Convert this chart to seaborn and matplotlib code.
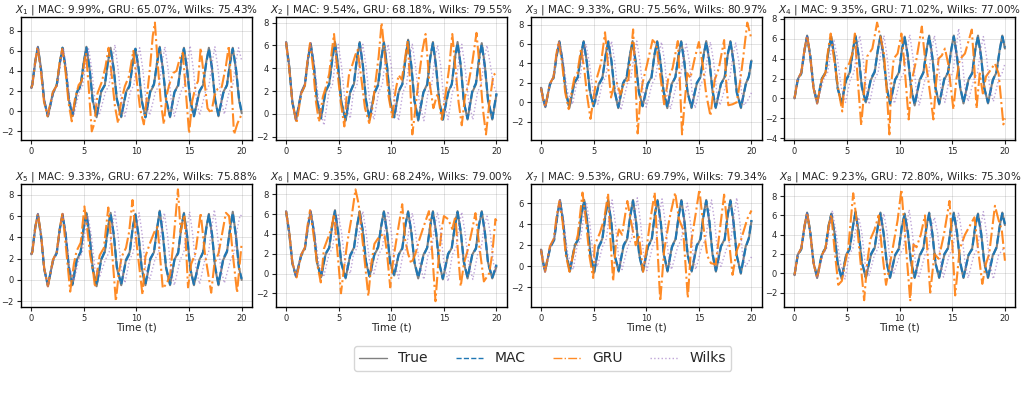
import matplotlib
matplotlib.use("Agg")
import matplotlib.pyplot as plt
import seaborn as sns

# error percentages shown in the panel titles
mac_err = [9.99, 9.54, 9.33, 9.35, 9.33, 9.35, 9.53, 9.23]
gru_err = [65.07, 68.18, 75.56, 71.02, 67.22, 68.24, 69.79, 72.80]
wilks_err = [75.43, 79.55, 80.97, 77.00, 75.88, 79.00, 79.34, 75.30]

# ---- X1 ----
x1_t = [0.0, 0.1, 0.38, 0.63, 0.93, 1.23, 1.58, 2.07, 2.42, 2.72, 2.97, 3.27, 3.57, 3.91, 4.34, 4.69, 4.99, 5.24, 5.54, 5.84, 6.21, 6.64, 6.99, 7.29, 7.54, 7.84, 8.14, 8.55, 9.0, 9.35, 9.65, 9.9, 10.2, 10.5, 10.85, 11.31, 11.66, 11.96, 12.21, 12.51, 12.81, 13.19, 13.61, 13.96, 14.26, 14.51, 14.81, 15.11, 15.46, 15.98, 16.33, 16.63, 16.88, 17.18, 17.48, 17.79, 18.25, 18.6, 18.9, 19.15, 19.45, 19.75, 20.0]
x1_true = [2.3, 2.6, 4.9, 6.4, 4.2, 1.1, -0.5, 1.9, 2.6, 4.9, 6.3, 4.2, 1.1, -0.5, 1.9, 2.6, 4.9, 6.4, 4.2, 1.1, -0.6, 1.9, 2.6, 4.9, 6.3, 4.2, 1.1, -0.6, 1.9, 2.6, 4.9, 6.2, 4.2, 1.1, -0.6, 1.9, 2.6, 4.9, 6.4, 4.2, 1.1, -0.6, 1.9, 2.6, 4.9, 6.3, 4.2, 1.1, -0.5, 1.9, 2.6, 4.9, 6.3, 4.2, 1.1, -0.5, 1.9, 2.6, 4.9, 6.3, 4.2, 1.1, -0.2]
x1_mac = [2.3, 2.7, 5.0, 6.3, 4.1, 1.0, -0.5, 1.8, 2.6, 4.8, 6.3, 4.3, 1.2, -0.4, 1.9, 2.5, 4.8, 6.3, 4.3, 1.0, -0.5, 2.0, 2.6, 5.0, 6.2, 4.1, 1.2, -0.5, 1.8, 2.5, 4.8, 6.2, 4.3, 1.0, -0.6, 2.0, 2.7, 4.8, 6.3, 4.2, 1.2, -0.5, 1.9, 2.5, 5.0, 6.2, 4.1, 1.1, -0.5, 2.0, 2.6, 4.8, 6.2, 4.3, 1.1, -0.4, 1.8, 2.6, 4.8, 6.2, 4.3, 1.2, -0.1]
x1_wilks_t = [0.0, 0.1, 0.38, 0.63, 0.93, 1.23, 1.6, 2.12, 2.5, 2.8, 3.05, 3.35, 3.65, 4.05, 4.55, 4.9, 5.2, 5.45, 5.75, 6.05, 6.45, 7.05, 7.4, 7.7, 7.95, 8.25, 8.55, 8.9, 9.4, 9.75, 10.05, 10.3, 10.6, 10.9, 11.25, 11.8, 12.15, 12.45, 12.7, 13.0, 13.3, 13.6, 14.2, 14.55, 14.85, 15.1, 15.4, 15.7, 16.0, 16.55, 16.9, 17.2, 17.45, 17.75, 18.05, 18.35, 18.8, 19.15, 19.45, 19.7, 20.0]
x1_wilks = [2.3, 2.6, 4.9, 6.4, 4.2, 1.1, -0.5, 1.9, 2.6, 4.9, 6.3, 4.2, 1.1, -0.3, 1.9, 2.6, 4.9, 6.2, 4.2, 1.1, -0.4, 1.9, 2.6, 4.9, 6.6, 4.2, 1.1, -0.5, 1.9, 2.6, 4.9, 6.3, 4.2, 1.1, -0.4, 1.9, 2.6, 4.9, 6.4, 4.2, 1.1, -0.5, 1.9, 2.6, 4.9, 6.5, 4.2, 1.1, -0.4, 1.9, 2.6, 4.9, 6.4, 4.2, 1.1, -0.3, 1.9, 2.6, 4.9, 6.3, 5.0]
x1_gru_t = [0.0, 0.1, 0.38, 0.6, 0.9, 1.2, 1.55, 2.05, 2.4, 2.7, 2.95, 3.25, 3.55, 3.85, 4.15, 4.5, 4.8, 5.0, 5.2, 5.45, 5.75, 6.0, 6.3, 6.7, 7.05, 7.35, 7.65, 7.95, 8.25, 8.55, 8.9, 9.3, 9.7, 10.05, 10.35, 10.7, 11.0, 11.3, 11.55, 11.75, 12.0, 12.3, 12.6, 12.85, 13.1, 13.5, 13.8, 14.1, 14.4, 14.7, 15.0, 15.3, 15.6, 15.85, 16.1, 16.4, 16.75, 17.1, 17.4, 17.7, 18.1, 18.5, 18.77, 19.0, 19.27, 19.6, 20.0]
x1_gru = [2.3, 2.6, 4.9, 6.4, 4.2, 1.0, -0.5, 1.9, 2.5, 4.8, 6.2, 4.0, 0.8, -1.0, 1.2, 2.6, 3.0, 4.6, 5.8, 2.5, -2.0, -1.2, 1.8, 2.9, 4.4, 6.3, 3.5, 0.5, -1.2, 1.0, 2.5, 3.5, 6.0, 2.8, 0.2, -1.3, 1.5, 4.5, 7.5, 8.8, 5.0, 1.0, -1.3, 1.5, 2.6, 3.8, 4.0, 5.2, 5.8, 1.8, -2.2, 1.0, 2.4, 3.0, 6.3, 3.5, 0.3, -0.2, 1.5, 2.2, 2.4, 4.5, 6.5, 3.0, -2.3, -1.2, -0.3]

# ---- X2 ----
x2_t = [0.0, 0.3, 0.6, 0.95, 1.44, 1.79, 2.09, 2.34, 2.64, 2.94, 3.32, 3.75, 4.1, 4.4, 4.65, 4.95, 5.25, 5.66, 6.1, 6.45, 6.75, 7.0, 7.3, 7.6, 7.94, 8.4, 8.75, 9.05, 9.3, 9.6, 9.9, 10.28, 10.7, 11.05, 11.35, 11.6, 11.9, 12.2, 12.56, 13.06, 13.41, 13.71, 13.96, 14.26, 14.56, 14.9, 15.4, 15.75, 16.05, 16.3, 16.6, 16.9, 17.25, 17.7, 18.05, 18.35, 18.6, 18.9, 19.2, 19.6, 20.0]
x2_true = [6.3, 4.2, 1.1, -0.6, 1.9, 2.6, 4.9, 6.2, 4.2, 1.1, -0.4, 1.9, 2.6, 4.9, 6.3, 4.2, 1.1, -0.6, 1.9, 2.6, 4.9, 6.3, 4.2, 1.1, -0.5, 1.9, 2.6, 4.9, 6.3, 4.2, 1.1, -0.3, 1.9, 2.6, 4.9, 6.5, 4.2, 1.1, -0.6, 1.9, 2.6, 4.9, 6.3, 4.2, 1.1, -0.5, 1.9, 2.6, 4.9, 6.3, 4.2, 1.1, -0.5, 1.9, 2.6, 4.9, 6.2, 4.2, 1.1, -0.5, 1.7]
x2_mac = [6.3, 4.1, 1.0, -0.5, 1.8, 2.5, 4.8, 6.1, 4.3, 1.2, -0.4, 2.0, 2.6, 4.8, 6.2, 4.1, 1.0, -0.5, 1.9, 2.7, 5.0, 6.2, 4.3, 1.2, -0.4, 1.8, 2.5, 4.8, 6.2, 4.1, 1.0, -0.3, 2.0, 2.6, 4.8, 6.4, 4.3, 1.2, -0.5, 1.9, 2.5, 5.0, 6.2, 4.1, 1.1, -0.5, 1.8, 2.6, 4.8, 6.2, 4.3, 1.0, -0.4, 2.0, 2.7, 4.8, 6.1, 4.1, 1.2, -0.4, 1.8]
x2_wilks_t = [0.0, 0.3, 0.6, 0.95, 1.44, 1.79, 2.09, 2.34, 2.7, 3.1, 3.6, 4.07, 4.42, 4.72, 4.97, 5.27, 5.6, 6.1, 6.4, 6.75, 7.05, 7.3, 7.6, 7.95, 8.35, 8.8, 9.15, 9.45, 9.7, 10.0, 10.3, 10.7, 11.1, 11.45, 11.75, 12.0, 12.3, 12.65, 13.1, 13.5, 13.85, 14.15, 14.4, 14.7, 15.0, 15.4, 15.8, 16.15, 16.45, 16.7, 17.0, 17.35, 17.75, 18.2, 18.55, 18.85, 19.1, 19.4, 19.7, 20.0]
x2_wilks = [6.3, 4.2, 1.1, -0.6, 1.9, 2.6, 4.9, 6.2, 4.2, 1.1, -1.0, 1.9, 2.6, 4.9, 6.1, 4.2, 1.1, -0.4, 1.9, 2.6, 4.9, 6.1, 4.2, 1.1, -0.5, 1.9, 2.6, 4.9, 6.1, 4.2, 1.1, -0.6, 1.9, 2.6, 4.9, 6.1, 4.2, 1.1, -0.6, 1.9, 2.6, 4.9, 6.0, 4.2, 1.1, -0.5, 1.9, 2.6, 4.9, 6.1, 4.2, 1.1, -0.5, 1.9, 2.6, 4.9, 6.0, 4.4, 2.6, 1.8]
x2_gru_t = [0.0, 0.3, 0.6, 1.0, 1.45, 1.8, 2.05, 2.28, 2.55, 2.85, 3.13, 3.5, 3.8, 4.1, 4.35, 4.56, 4.85, 5.2, 5.54, 5.75, 6.0, 6.3, 6.6, 6.8, 7.1, 7.5, 7.9, 8.2, 8.5, 8.8, 9.08, 9.4, 9.75, 10.1, 10.4, 10.7, 11.0, 11.3, 11.55, 11.8, 12.0, 12.3, 12.6, 12.95, 13.26, 13.6, 14.0, 14.4, 14.8, 15.2, 15.5, 15.8, 16.1, 16.4, 16.7, 17.0, 17.3, 17.7, 18.1, 18.4, 18.7, 19.0, 19.3, 19.7, 20.0]
x2_gru = [6.3, 4.0, 1.0, -0.8, 1.8, 2.5, 4.8, 6.2, 4.2, 1.0, -0.7, 1.5, 2.4, 3.5, 5.5, 7.0, 4.0, 1.0, -1.1, 1.5, 3.6, 4.3, 5.2, 5.6, 3.5, 0.5, -0.8, 0.5, 2.8, 5.0, 8.0, 5.0, 1.5, -0.3, 2.0, 3.4, 3.0, 4.8, 6.4, 2.5, -1.8, 0.5, 3.0, 5.5, 7.0, 3.0, 0.5, 1.8, -0.5, 2.0, 4.0, 7.0, 4.0, 1.0, -1.0, 1.5, 2.5, 4.5, 7.1, 4.0, 0.5, -1.8, 0.8, 3.4, 3.6]

# ---- X3 ----
x3_t = [0.0, 0.2, 0.41, 0.84, 1.19, 1.49, 1.74, 2.04, 2.34, 2.69, 3.15, 3.5, 3.8, 4.05, 4.35, 4.65, 5.0, 5.49, 5.84, 6.14, 6.39, 6.69, 6.99, 7.34, 7.8, 8.15, 8.45, 8.7, 9.0, 9.3, 9.65, 10.14, 10.49, 10.79, 11.04, 11.34, 11.64, 12.0, 12.42, 12.77, 13.07, 13.32, 13.62, 13.92, 14.3, 14.8, 15.15, 15.45, 15.7, 16.0, 16.3, 16.6, 17.1, 17.45, 17.75, 18.0, 18.3, 18.6, 19.0, 19.45, 19.75, 20.0]
x3_true = [1.5, 0.3, -0.5, 1.9, 2.6, 4.9, 6.3, 4.2, 1.1, -0.6, 1.9, 2.6, 4.9, 6.3, 4.2, 1.1, -0.4, 1.9, 2.6, 4.9, 6.3, 4.2, 1.1, -0.6, 1.9, 2.6, 4.9, 6.3, 4.2, 1.1, -0.4, 1.9, 2.6, 4.9, 6.3, 4.2, 1.1, -0.6, 1.9, 2.6, 4.9, 6.3, 4.2, 1.1, -0.6, 1.9, 2.6, 4.9, 6.3, 4.2, 1.1, -0.6, 1.9, 2.6, 4.9, 6.3, 4.2, 1.1, -0.6, 1.9, 2.6, 4.3]
x3_mac = [1.5, 0.4, -0.4, 1.8, 2.5, 4.8, 6.2, 4.3, 1.2, -0.5, 2.0, 2.6, 5.0, 6.2, 4.1, 1.0, -0.4, 1.8, 2.5, 4.8, 6.2, 4.3, 1.2, -0.5, 2.0, 2.7, 4.8, 6.2, 4.1, 1.0, -0.4, 1.9, 2.5, 5.0, 6.2, 4.3, 1.2, -0.5, 1.8, 2.6, 4.8, 6.2, 4.1, 1.0, -0.5, 2.0, 2.6, 4.8, 6.2, 4.3, 1.2, -0.5, 1.9, 2.5, 5.0, 6.2, 4.1, 1.0, -0.5, 1.8, 2.7, 4.4]
x3_wilks_t = [0.0, 0.2, 0.41, 0.84, 1.19, 1.49, 1.74, 2.1, 2.5, 3.0, 3.37, 3.72, 4.02, 4.27, 4.57, 4.95, 5.4, 5.8, 6.15, 6.45, 6.7, 7.0, 7.3, 7.6, 8.2, 8.55, 8.85, 9.1, 9.4, 9.7, 10.0, 10.55, 10.9, 11.2, 11.45, 11.75, 12.0, 12.3, 12.9, 13.25, 13.55, 13.8, 14.1, 14.35, 14.65, 15.2, 15.55, 15.85, 16.1, 16.4, 16.7, 17.0, 17.6, 17.95, 18.25, 18.5, 18.8, 19.05, 19.3, 19.7, 20.0]
x3_wilks = [1.5, 0.3, -0.5, 1.9, 2.6, 4.9, 6.3, 4.2, 1.1, -0.2, 1.9, 2.6, 4.9, 6.0, 4.2, 1.1, -0.2, 1.9, 2.6, 4.9, 6.3, 4.2, 1.1, -0.8, 1.9, 2.6, 4.9, 6.3, 4.2, 1.1, -0.5, 1.9, 2.6, 4.9, 6.2, 4.2, 1.1, -0.7, 1.9, 2.6, 4.9, 6.0, 4.2, 1.1, -0.6, 1.9, 2.6, 4.9, 6.2, 4.2, 1.1, -0.3, 1.9, 2.6, 4.9, 6.1, 4.2, 1.1, -0.3, 0.3, 1.0]
x3_gru_t = [0.0, 0.2, 0.41, 0.84, 1.19, 1.45, 1.68, 1.98, 2.3, 2.63, 2.9, 3.16, 3.45, 3.8, 4.1, 4.4, 4.7, 5.0, 5.25, 5.7, 6.08, 6.35, 6.65, 6.95, 7.2, 7.55, 7.9, 8.3, 8.55, 8.75, 8.95, 9.18, 9.45, 9.65, 10.1, 10.6, 10.95, 11.3, 11.7, 12.1, 12.5, 13.0, 13.2, 13.4, 13.65, 13.9, 14.2, 14.6, 15.0, 15.35, 15.7, 16.1, 16.5, 16.9, 17.4, 17.6, 17.8, 18.2, 18.6, 18.9, 19.2, 19.6, 20.0]
x3_gru = [1.5, 0.3, -0.5, 1.9, 2.6, 4.9, 6.3, 4.2, 1.0, -0.7, 1.0, 2.5, 3.0, 5.5, 3.5, 0.5, -1.7, 0.5, 2.3, 4.0, 7.2, 4.0, 0.5, 1.8, 2.0, 0.8, 2.0, 2.3, 5.0, 7.5, 3.0, -3.2, 0.5, 2.0, 4.0, 6.4, 6.0, 3.0, -0.2, 2.5, 3.5, 6.3, 2.0, -3.3, 0.0, 3.0, 2.5, 4.5, 6.2, 4.0, 0.8, -1.4, 2.3, 3.5, 6.4, 2.0, -0.3, -0.2, 0.0, 2.0, 4.5, 8.2, 6.5]

# ---- X4 ----
x4_t = [0.0, 0.3, 0.65, 0.95, 1.2, 1.5, 1.8, 2.15, 2.6, 2.95, 3.25, 3.5, 3.8, 4.1, 4.48, 4.9, 5.25, 5.55, 5.8, 6.1, 6.4, 6.78, 7.27, 7.62, 7.92, 8.17, 8.47, 8.77, 9.08, 9.57, 9.92, 10.22, 10.47, 10.77, 11.07, 11.42, 11.9, 12.25, 12.55, 12.8, 13.1, 13.4, 13.75, 14.24, 14.59, 14.89, 15.14, 15.44, 15.74, 16.06, 16.54, 16.89, 17.19, 17.44, 17.74, 18.04, 18.39, 18.85, 19.2, 19.5, 19.75, 20.0]
x4_true = [0.0, 1.9, 2.6, 4.9, 6.3, 4.2, 1.1, -0.5, 1.9, 2.6, 4.9, 6.2, 4.2, 1.1, -0.5, 1.9, 2.6, 4.9, 6.3, 4.2, 1.1, -0.4, 1.9, 2.6, 4.9, 6.3, 4.2, 1.1, -0.6, 1.9, 2.6, 4.9, 6.2, 4.2, 1.1, -0.7, 1.9, 2.6, 4.9, 6.3, 4.2, 1.1, -0.6, 1.9, 2.6, 4.9, 6.3, 4.2, 1.1, -0.5, 1.9, 2.6, 4.9, 6.3, 4.2, 1.1, -0.5, 1.9, 2.6, 4.9, 6.3, 5.0]
x4_mac = [0.0, 1.8, 2.5, 4.8, 6.2, 4.3, 1.2, -0.4, 2.0, 2.6, 5.0, 6.1, 4.1, 1.0, -0.4, 1.8, 2.5, 4.8, 6.2, 4.3, 1.2, -0.4, 2.0, 2.7, 4.8, 6.2, 4.1, 1.0, -0.5, 1.9, 2.5, 5.0, 6.1, 4.3, 1.2, -0.6, 1.8, 2.6, 4.8, 6.2, 4.1, 1.0, -0.5, 2.0, 2.6, 4.8, 6.2, 4.3, 1.2, -0.4, 1.9, 2.5, 5.0, 6.2, 4.1, 1.0, -0.4, 1.8, 2.7, 4.8, 6.2, 5.1]
x4_wilks_t = [0.0, 0.3, 0.65, 0.95, 1.2, 1.5, 1.8, 2.15, 2.75, 3.15, 3.5, 3.75, 4.05, 4.45, 4.85, 5.3, 5.65, 5.95, 6.2, 6.5, 6.8, 7.1, 7.6, 7.95, 8.25, 8.5, 8.8, 9.1, 9.5, 10.05, 10.4, 10.7, 10.95, 11.25, 11.55, 11.85, 12.4, 12.75, 13.05, 13.3, 13.6, 13.9, 14.3, 14.7, 15.05, 15.35, 15.6, 15.9, 16.2, 16.5, 17.05, 17.4, 17.7, 17.95, 18.25, 18.55, 18.9, 19.4, 19.75, 20.0]
x4_wilks = [0.0, 1.9, 2.6, 4.9, 6.3, 4.2, 1.1, -0.5, 1.9, 2.6, 4.9, 5.8, 4.2, 1.1, -0.4, 1.9, 2.6, 4.9, 6.3, 4.2, 1.1, -0.6, 1.9, 2.6, 4.9, 6.3, 4.2, 1.1, -0.5, 1.9, 2.6, 4.9, 6.4, 4.2, 1.1, -0.7, 1.9, 2.6, 4.9, 6.3, 4.2, 1.1, -0.4, 1.9, 2.6, 4.9, 7.0, 4.2, 1.1, -0.3, 1.9, 2.6, 4.9, 6.2, 4.2, 1.1, -0.3, 1.9, 2.6, 3.5]
x4_gru_t = [0.0, 0.3, 0.65, 0.95, 1.2, 1.5, 1.8, 2.15, 2.6, 2.95, 3.2, 3.44, 3.75, 4.15, 4.54, 4.86, 5.2, 5.5, 5.74, 6.0, 6.34, 6.6, 6.9, 7.4, 7.85, 8.2, 8.5, 8.75, 9.02, 9.2, 9.43, 9.8, 10.16, 10.4, 10.85, 11.15, 11.6, 12.1, 12.4, 12.7, 13.2, 13.45, 13.7, 14.0, 14.3, 14.6, 15.1, 15.4, 15.7, 16.2, 16.85, 17.1, 17.3, 17.6, 17.9, 18.2, 18.6, 19.05, 19.4, 19.85, 20.0]
x4_gru = [0.0, 1.9, 2.6, 4.9, 6.3, 4.2, 1.1, -0.5, 1.9, 2.6, 4.9, 6.5, 4.0, 1.0, -1.3, 3.0, 3.5, 4.5, 6.5, 2.0, -2.7, 0.5, 4.2, 5.0, 7.6, 6.0, 4.5, 1.0, -3.6, 1.5, 4.0, 4.5, 6.5, 4.0, -2.1, 1.8, 4.0, 7.2, 4.0, 2.0, -2.1, 1.5, 4.0, 4.3, 5.0, 3.5, -1.1, 2.0, 3.9, 4.5, 6.9, 3.0, -1.0, 2.5, 0.5, 2.2, 2.8, 3.5, 2.5, -2.6, -2.0]

# ---- X5 ----
x5_t = [0.0, 0.1, 0.38, 0.63, 0.93, 1.23, 1.58, 2.07, 2.42, 2.72, 2.97, 3.27, 3.57, 3.91, 4.34, 4.69, 4.99, 5.24, 5.54, 5.84, 6.21, 6.64, 6.99, 7.29, 7.54, 7.84, 8.14, 8.55, 9.0, 9.35, 9.65, 9.9, 10.2, 10.5, 10.85, 11.31, 11.66, 11.96, 12.21, 12.51, 12.81, 13.19, 13.61, 13.96, 14.26, 14.51, 14.81, 15.11, 15.46, 15.98, 16.33, 16.63, 16.88, 17.18, 17.48, 17.79, 18.25, 18.6, 18.9, 19.15, 19.45, 19.75, 20.0]
x5_true = [2.4, 2.6, 4.9, 6.2, 4.2, 1.1, -0.6, 1.9, 2.6, 4.9, 6.2, 4.2, 1.1, -0.5, 1.9, 2.6, 4.9, 6.3, 4.2, 1.1, -0.6, 1.9, 2.6, 4.9, 6.3, 4.2, 1.1, -0.5, 1.9, 2.6, 4.9, 6.2, 4.2, 1.1, -0.5, 1.9, 2.6, 4.9, 6.5, 4.2, 1.1, -0.5, 1.9, 2.6, 4.9, 6.3, 4.2, 1.1, -0.5, 1.9, 2.6, 4.9, 6.2, 4.2, 1.1, -0.5, 1.9, 2.6, 4.9, 6.4, 4.2, 1.1, 0.0]
x5_mac = [2.4, 2.7, 5.0, 6.1, 4.1, 1.0, -0.5, 1.8, 2.5, 4.8, 6.1, 4.3, 1.2, -0.4, 2.0, 2.6, 5.0, 6.2, 4.1, 1.0, -0.5, 1.9, 2.7, 4.8, 6.2, 4.3, 1.2, -0.4, 1.8, 2.5, 5.0, 6.1, 4.1, 1.0, -0.4, 2.0, 2.6, 4.8, 6.4, 4.3, 1.2, -0.4, 1.9, 2.5, 5.0, 6.2, 4.1, 1.0, -0.4, 1.8, 2.6, 4.8, 6.1, 4.3, 1.2, -0.4, 2.0, 2.7, 4.8, 6.3, 4.1, 1.0, 0.1]
x5_wilks_t = [0.0, 0.1, 0.38, 0.63, 0.93, 1.23, 1.58, 2.1, 2.45, 2.75, 3.0, 3.3, 3.65, 4.07, 4.5, 4.85, 5.15, 5.4, 5.7, 6.05, 6.5, 7.05, 7.4, 7.7, 7.95, 8.25, 8.55, 8.9, 9.35, 9.7, 10.0, 10.25, 10.55, 10.85, 11.25, 11.75, 12.1, 12.4, 12.65, 12.95, 13.25, 13.6, 14.15, 14.5, 14.8, 15.05, 15.35, 15.65, 16.0, 16.5, 16.85, 17.15, 17.4, 17.7, 18.0, 18.35, 18.95, 19.3, 19.6, 19.85, 20.0]
x5_wilks = [2.4, 2.6, 4.9, 6.2, 4.2, 1.1, -0.6, 1.9, 2.6, 4.9, 6.2, 4.2, 1.1, -0.1, 1.9, 2.6, 4.9, 6.0, 4.2, 1.1, 0.3, 1.9, 2.6, 4.9, 6.4, 4.2, 1.1, -0.3, 1.9, 2.6, 4.9, 6.3, 4.2, 1.1, 0.0, 1.9, 2.6, 4.9, 6.3, 4.2, 1.1, -0.5, 1.9, 2.6, 4.9, 6.4, 4.2, 1.1, -0.4, 1.9, 2.6, 4.9, 6.6, 4.2, 1.1, -0.3, 1.9, 2.6, 4.9, 6.1, 6.0]
x5_gru_t = [0.0, 0.1, 0.38, 0.63, 0.93, 1.23, 1.58, 2.07, 2.42, 2.72, 2.97, 3.25, 3.7, 4.05, 4.3, 4.7, 5.05, 5.35, 5.6, 5.85, 6.06, 6.3, 6.5, 6.9, 7.32, 7.65, 8.04, 8.3, 8.6, 9.0, 9.3, 9.62, 10.0, 10.57, 10.85, 11.3, 11.7, 12.0, 12.3, 12.5, 12.9, 13.2, 13.5, 13.94, 14.2, 14.4, 14.55, 14.9, 15.2, 15.6, 16.1, 16.5, 17.1, 17.4, 17.8, 18.5, 18.8, 19.2, 19.56, 20.0]
x5_gru = [2.4, 2.6, 4.9, 6.2, 4.2, 1.1, -0.6, 1.9, 2.6, 4.9, 6.2, 3.5, -1.1, 1.5, 2.7, 3.5, 6.9, 4.5, 2.3, 1.0, -0.7, 1.0, 2.3, 3.0, 6.8, 3.0, -2.0, 0.5, 2.2, 3.0, 4.5, 7.5, 3.5, -1.4, 2.2, 3.5, 4.5, 5.0, 1.5, -0.8, -0.3, 0.5, 3.5, 8.5, 4.5, 5.5, 6.1, -0.7, 1.5, 2.5, 6.3, 2.5, -1.2, 1.5, 2.5, 6.3, 6.0, 2.0, -1.2, 3.5]

# ---- X6 ----
x6_t = [0.0, 0.3, 0.6, 0.95, 1.44, 1.79, 2.09, 2.34, 2.64, 2.94, 3.32, 3.75, 4.1, 4.4, 4.65, 4.95, 5.25, 5.66, 6.1, 6.45, 6.75, 7.0, 7.3, 7.6, 7.94, 8.4, 8.75, 9.05, 9.3, 9.6, 9.9, 10.28, 10.7, 11.05, 11.35, 11.6, 11.9, 12.2, 12.56, 13.06, 13.41, 13.71, 13.96, 14.26, 14.56, 14.9, 15.4, 15.75, 16.05, 16.3, 16.6, 16.9, 17.25, 17.7, 18.05, 18.35, 18.6, 18.9, 19.2, 19.6, 20.0]
x6_true = [6.3, 4.2, 1.1, -0.3, 1.9, 2.6, 4.9, 6.3, 4.2, 1.1, -0.4, 1.9, 2.6, 4.9, 6.4, 4.2, 1.1, -0.5, 1.9, 2.6, 4.9, 6.3, 4.2, 1.1, -0.3, 1.9, 2.6, 4.9, 6.3, 4.2, 1.1, -0.2, 1.9, 2.6, 4.9, 6.3, 4.2, 1.1, -0.5, 1.9, 2.6, 4.9, 6.3, 4.2, 1.1, -0.6, 1.9, 2.6, 4.9, 6.3, 4.2, 1.1, -0.5, 1.9, 2.6, 4.9, 6.3, 4.2, 1.1, -0.5, 0.7]
x6_mac = [6.3, 4.1, 1.0, -0.3, 1.8, 2.5, 4.8, 6.2, 4.3, 1.2, -0.4, 2.0, 2.6, 5.0, 6.3, 4.1, 1.0, -0.4, 1.8, 2.5, 4.8, 6.2, 4.3, 1.2, -0.3, 2.0, 2.7, 4.8, 6.2, 4.1, 1.0, -0.2, 1.9, 2.5, 5.0, 6.2, 4.3, 1.2, -0.4, 1.8, 2.6, 4.8, 6.2, 4.1, 1.0, -0.5, 2.0, 2.6, 4.8, 6.2, 4.3, 1.2, -0.4, 1.9, 2.5, 5.0, 6.2, 4.1, 1.0, -0.4, 0.9]
x6_wilks_t = [0.0, 0.3, 0.6, 0.95, 1.44, 1.79, 2.09, 2.34, 2.7, 3.1, 3.6, 4.07, 4.42, 4.72, 4.97, 5.27, 5.6, 6.1, 6.4, 6.75, 7.05, 7.3, 7.6, 7.95, 8.35, 8.8, 9.15, 9.45, 9.7, 10.0, 10.3, 10.7, 11.1, 11.45, 11.75, 12.0, 12.3, 12.65, 13.1, 13.5, 13.85, 14.15, 14.4, 14.7, 15.0, 15.4, 15.8, 16.15, 16.45, 16.7, 17.0, 17.35, 17.75, 18.2, 18.55, 18.85, 19.1, 19.4, 19.7, 20.0]
x6_wilks = [6.3, 4.2, 1.1, -0.3, 1.9, 2.6, 4.9, 6.3, 4.2, 1.1, -0.2, 1.9, 2.6, 4.9, 5.9, 4.2, 1.1, 0.0, 1.9, 2.6, 4.9, 6.3, 4.2, 1.1, 0.0, 1.9, 2.6, 4.9, 6.3, 4.2, 1.1, -0.5, 1.9, 2.6, 4.9, 6.1, 4.2, 1.1, -0.6, 1.9, 2.6, 4.9, 6.2, 4.2, 1.1, -0.8, 1.9, 2.6, 4.9, 6.2, 4.2, 1.1, -0.6, 1.9, 2.6, 4.9, 5.8, 4.2, 1.1, 0.0]
x6_gru_t = [0.0, 0.3, 0.6, 1.0, 1.44, 1.79, 2.05, 2.28, 2.6, 2.95, 3.3, 3.6, 3.95, 4.3, 4.56, 4.9, 5.22, 5.5, 5.8, 6.2, 6.6, 6.9, 7.2, 7.5, 7.82, 8.1, 8.4, 8.9, 9.35, 9.6, 9.9, 10.2, 10.5, 11.04, 11.3, 11.6, 11.9, 12.3, 12.6, 13.0, 13.58, 13.9, 14.2, 14.5, 14.8, 15.0, 15.4, 15.8, 16.1, 16.35, 16.6, 16.9, 17.3, 17.7, 18.0, 18.4, 18.8, 19.3, 19.6, 19.9, 20.0]
x6_gru = [6.3, 4.2, 1.1, -0.4, 1.9, 2.6, 4.9, 6.4, 4.0, 1.0, -0.9, 2.5, 3.5, 4.5, 6.0, 2.0, -2.0, 0.5, 3.0, 5.5, 8.5, 7.0, 4.0, 1.0, -2.3, 1.0, 3.0, 3.8, 4.0, 2.0, -1.4, 1.5, 3.5, 7.0, 3.5, 2.0, 1.0, 2.0, 3.2, 4.5, 6.3, 2.0, -2.8, 1.5, 4.5, 5.8, 5.5, 4.5, 5.8, 2.0, -1.3, 1.0, 2.5, 4.5, 6.1, 2.5, -0.8, 0.0, 2.0, 5.5, 5.3]

# ---- X7 ----
x7_t = [0.0, 0.2, 0.38, 0.88, 1.25, 1.55, 1.8, 2.1, 2.4, 2.74, 3.2, 3.55, 3.85, 4.1, 4.4, 4.7, 5.05, 5.47, 5.82, 6.12, 6.37, 6.67, 6.97, 7.38, 7.84, 8.19, 8.49, 8.74, 9.04, 9.34, 9.68, 10.17, 10.52, 10.82, 11.07, 11.37, 11.67, 12.02, 12.44, 12.79, 13.09, 13.34, 13.64, 13.94, 14.32, 14.8, 15.15, 15.45, 15.7, 16.0, 16.3, 16.62, 17.1, 17.45, 17.75, 18.0, 18.3, 18.6, 18.99, 19.45, 19.75, 20.0]
x7_true = [1.6, 0.3, -0.5, 1.9, 2.6, 4.9, 6.3, 4.2, 1.1, -0.5, 1.9, 2.6, 4.9, 6.3, 4.2, 1.1, -0.6, 1.9, 2.6, 4.9, 6.3, 4.2, 1.1, -0.5, 1.9, 2.6, 4.9, 6.3, 4.2, 1.1, -0.5, 1.9, 2.6, 4.9, 6.3, 4.2, 1.1, -0.5, 1.9, 2.6, 4.9, 6.3, 4.2, 1.1, -0.5, 1.9, 2.6, 4.9, 6.3, 4.2, 1.1, -0.5, 1.9, 2.6, 4.9, 6.3, 4.2, 1.1, -0.7, 1.9, 2.6, 4.3]
x7_mac = [1.6, 0.4, -0.4, 1.8, 2.5, 4.8, 6.2, 4.3, 1.2, -0.4, 2.0, 2.6, 5.0, 6.2, 4.1, 1.0, -0.5, 1.8, 2.5, 4.8, 6.2, 4.3, 1.2, -0.4, 2.0, 2.7, 4.8, 6.2, 4.1, 1.0, -0.4, 1.9, 2.5, 5.0, 6.2, 4.3, 1.2, -0.4, 1.8, 2.6, 4.8, 6.2, 4.1, 1.0, -0.4, 2.0, 2.6, 4.8, 6.2, 4.3, 1.2, -0.4, 1.9, 2.5, 5.0, 6.2, 4.1, 1.0, -0.6, 1.8, 2.7, 4.4]
x7_wilks_t = [0.0, 0.2, 0.38, 0.88, 1.25, 1.55, 1.8, 2.15, 2.55, 3.06, 3.42, 3.77, 4.07, 4.32, 4.62, 4.95, 5.36, 5.85, 6.2, 6.5, 6.75, 7.05, 7.35, 7.7, 8.25, 8.6, 8.9, 9.15, 9.45, 9.75, 10.06, 10.6, 10.95, 11.25, 11.5, 11.8, 12.1, 12.4, 13.0, 13.35, 13.65, 13.9, 14.2, 14.45, 14.7, 15.3, 15.65, 15.95, 16.2, 16.5, 16.8, 17.1, 17.7, 18.05, 18.35, 18.6, 18.9, 19.15, 19.45, 19.75, 20.0]
x7_wilks = [1.6, 0.3, -0.5, 1.9, 2.6, 4.9, 6.3, 4.2, 1.1, -0.3, 1.9, 2.6, 4.9, 6.0, 4.2, 1.1, 0.0, 1.9, 2.6, 4.9, 6.3, 4.2, 1.1, -0.3, 1.9, 2.6, 4.9, 6.5, 4.2, 1.1, -0.4, 1.9, 2.6, 4.9, 6.4, 4.2, 1.1, -0.3, 1.9, 2.6, 4.9, 6.0, 4.2, 1.1, -0.3, 1.9, 2.6, 4.9, 6.3, 4.2, 1.1, 0.0, 1.9, 2.6, 4.9, 6.5, 4.2, 1.1, 0.0, 0.5, 0.9]
x7_gru_t = [0.0, 0.2, 0.38, 0.84, 1.2, 1.5, 1.75, 2.05, 2.35, 2.7, 3.2, 3.5, 3.94, 4.25, 4.6, 4.95, 5.1, 5.6, 6.0, 6.37, 6.6, 6.85, 7.1, 7.4, 7.7, 8.2, 8.6, 9.0, 9.3, 9.7, 10.0, 10.4, 10.8, 11.05, 11.33, 11.7, 12.2, 12.75, 13.1, 13.5, 13.95, 14.3, 14.7, 15.05, 15.4, 15.8, 16.15, 16.6, 17.0, 17.4, 17.8, 18.2, 18.6, 19.0, 19.6, 20.0]
x7_gru = [1.6, 0.3, -0.5, 1.9, 2.6, 4.9, 6.2, 4.2, 1.1, -0.5, 1.8, 3.0, 7.0, 4.5, 1.0, -1.1, 2.0, 3.2, 4.5, 6.9, 2.5, -1.4, 2.0, 3.5, 3.0, 6.2, 4.0, 2.0, 3.0, -0.5, 1.5, 4.5, 7.0, 2.0, -3.3, 1.5, 4.5, 7.0, 4.5, 3.5, -3.0, 2.5, 5.0, 7.3, 4.0, 1.0, 0.3, 0.2, 3.5, 6.8, 3.0, -0.8, 1.5, 2.5, 4.5, 5.3]

# ---- X8 ----
x8_t = [0.0, 0.3, 0.65, 0.95, 1.2, 1.5, 1.8, 2.15, 2.6, 2.95, 3.25, 3.5, 3.8, 4.1, 4.48, 4.9, 5.25, 5.55, 5.8, 6.1, 6.4, 6.78, 7.27, 7.62, 7.92, 8.17, 8.47, 8.77, 9.08, 9.57, 9.92, 10.22, 10.47, 10.77, 11.07, 11.42, 11.9, 12.25, 12.55, 12.8, 13.1, 13.4, 13.75, 14.24, 14.59, 14.89, 15.14, 15.44, 15.74, 16.06, 16.54, 16.89, 17.19, 17.44, 17.74, 18.04, 18.39, 18.85, 19.2, 19.5, 19.75, 20.0]
x8_true = [-0.2, 1.9, 2.6, 4.9, 6.3, 4.2, 1.1, -0.5, 1.9, 2.6, 4.9, 6.2, 4.2, 1.1, -0.6, 1.9, 2.6, 4.9, 6.4, 4.2, 1.1, -0.5, 1.9, 2.6, 4.9, 6.3, 4.2, 1.1, -0.5, 1.9, 2.6, 4.9, 6.2, 4.2, 1.1, -0.5, 1.9, 2.6, 4.9, 6.3, 4.2, 1.1, -0.5, 1.9, 2.6, 4.9, 6.3, 4.2, 1.1, -0.5, 1.9, 2.6, 4.9, 6.2, 4.2, 1.1, -0.5, 1.9, 2.6, 4.9, 6.3, 5.0]
x8_mac = [-0.2, 1.8, 2.5, 4.8, 6.2, 4.3, 1.2, -0.4, 2.0, 2.6, 5.0, 6.1, 4.1, 1.0, -0.5, 1.8, 2.5, 4.8, 6.3, 4.3, 1.2, -0.4, 2.0, 2.7, 4.8, 6.2, 4.1, 1.0, -0.4, 1.9, 2.5, 5.0, 6.1, 4.3, 1.2, -0.4, 1.8, 2.6, 4.8, 6.2, 4.1, 1.0, -0.4, 2.0, 2.6, 4.8, 6.2, 4.3, 1.2, -0.4, 1.9, 2.5, 5.0, 6.1, 4.1, 1.0, -0.4, 1.8, 2.7, 4.8, 6.2, 5.1]
x8_wilks_t = [0.0, 0.3, 0.65, 0.95, 1.2, 1.5, 1.8, 2.15, 2.7, 3.05, 3.35, 3.6, 3.95, 4.35, 4.8, 5.2, 5.55, 5.85, 6.1, 6.4, 6.7, 7.07, 7.6, 7.95, 8.25, 8.5, 8.8, 9.1, 9.43, 10.0, 10.35, 10.65, 10.9, 11.2, 11.5, 11.8, 12.4, 12.75, 13.05, 13.3, 13.6, 13.9, 14.16, 14.7, 15.05, 15.35, 15.6, 15.9, 16.2, 16.5, 17.05, 17.4, 17.7, 17.95, 18.25, 18.55, 18.9, 19.4, 19.75, 20.0]
x8_wilks = [-0.2, 1.9, 2.6, 4.9, 6.3, 4.2, 1.1, -0.5, 1.9, 2.6, 4.9, 6.5, 4.2, 1.1, -0.6, 1.9, 2.6, 4.9, 5.8, 4.2, 1.1, -0.3, 1.9, 2.6, 4.9, 6.2, 4.2, 1.1, 0.0, 1.9, 2.6, 4.9, 6.6, 4.2, 1.1, -0.5, 1.9, 2.6, 4.9, 5.8, 4.2, 1.1, -0.4, 1.9, 2.6, 4.9, 6.3, 4.2, 1.1, -0.5, 1.9, 2.6, 4.9, 6.4, 4.2, 1.1, -0.6, 1.9, 2.4, 2.7]
x8_gru_t = [0.0, 0.3, 0.65, 0.95, 1.2, 1.5, 1.8, 2.15, 2.6, 2.95, 3.25, 3.5, 3.8, 4.16, 4.5, 4.8, 5.1, 5.58, 5.85, 6.2, 6.62, 6.9, 7.2, 7.6, 8.0, 8.35, 8.7, 9.0, 9.4, 9.8, 10.16, 10.5, 11.0, 11.3, 11.6, 12.0, 12.4, 12.65, 12.9, 13.3, 13.7, 14.2, 14.73, 15.0, 15.27, 15.7, 16.2, 17.1, 17.5, 17.85, 18.2, 18.5, 19.05, 19.4, 19.7, 20.0]
x8_gru = [-0.2, 1.9, 2.6, 4.9, 6.3, 4.2, 1.1, -0.5, 1.9, 2.6, 4.9, 6.1, 2.5, -1.2, -0.8, 1.0, 2.5, 8.3, 6.0, 2.0, -2.8, 1.0, 3.5, 4.5, 6.0, 2.0, -1.2, 0.5, 3.0, 5.5, 8.7, 4.0, -2.9, 3.0, 2.7, 4.0, 6.0, 2.0, -2.0, 2.0, 1.5, 4.0, 7.5, 3.0, -2.3, 2.5, 4.0, 5.8, 2.0, -1.1, 1.0, 2.0, 7.0, 5.5, 4.5, 1.3]

panels = [
    (x1_t, x1_true, x1_mac, x1_gru_t, x1_gru, x1_wilks_t, x1_wilks),
    (x2_t, x2_true, x2_mac, x2_gru_t, x2_gru, x2_wilks_t, x2_wilks),
    (x3_t, x3_true, x3_mac, x3_gru_t, x3_gru, x3_wilks_t, x3_wilks),
    (x4_t, x4_true, x4_mac, x4_gru_t, x4_gru, x4_wilks_t, x4_wilks),
    (x5_t, x5_true, x5_mac, x5_gru_t, x5_gru, x5_wilks_t, x5_wilks),
    (x6_t, x6_true, x6_mac, x6_gru_t, x6_gru, x6_wilks_t, x6_wilks),
    (x7_t, x7_true, x7_mac, x7_gru_t, x7_gru, x7_wilks_t, x7_wilks),
    (x8_t, x8_true, x8_mac, x8_gru_t, x8_gru, x8_wilks_t, x8_wilks),
]

sns.set_theme(style="ticks")
plt.rcParams['font.family'] = ['DejaVu Sans']

fig = plt.figure(figsize=(10.22, 4.0), dpi=100)
lefts = [0.0203, 0.2696, 0.5191, 0.7671]
bottoms = [0.65, 0.233]
w, h = 0.2265, 0.3075

handles, labels = None, None
for i, (t, tr, mac, gt, gru, wt, wil) in enumerate(panels):
    ax = fig.add_axes([lefts[i % 4], bottoms[i // 4], w, h])
    sns.lineplot(x=t, y=tr, ax=ax, color='gray', lw=1.5, label='True',
                 estimator=None, sort=False)
    sns.lineplot(x=t, y=mac, ax=ax, color='tab:blue', lw=1.6, ls='--', label='MAC',
                 estimator=None, sort=False)
    sns.lineplot(x=gt, y=gru, ax=ax, color='tab:orange', lw=1.5, ls='-.', alpha=0.9,
                 label='GRU', estimator=None, sort=False)
    sns.lineplot(x=wt, y=wil, ax=ax, color='tab:purple', lw=1.0, ls=':', alpha=0.6,
                 label='Wilks', estimator=None, sort=False)
    if handles is None:
        handles, labels = ax.get_legend_handles_labels()
    if ax.get_legend() is not None:
        ax.get_legend().remove()

    ax.set_title(f"$X_{{{i + 1}}}$ | MAC: {mac_err[i]:.2f}%, GRU: {gru_err[i]:.2f}%, "
                 f"Wilks: {wilks_err[i]:.2f}%", fontsize=7.5, pad=3)
    ax.set_xticks([0, 5, 10, 15, 20])
    ax.tick_params(labelsize=6, length=3, width=0.8, pad=2)
    ax.grid(True, color='gray', alpha=0.25, lw=0.6)
    for s in ax.spines.values():
        s.set_color('black')
        s.set_linewidth(1.0)
    ax.set_ylabel('')
    if i >= 4:
        ax.set_xlabel('Time (t)', fontsize=7.5, labelpad=0)
    else:
        ax.set_xlabel('')

leg = fig.legend(handles, labels, loc='center', bbox_to_anchor=(0.531, 0.104), ncol=4,
                 fontsize=10, frameon=True, columnspacing=2.0)
for line in leg.get_lines():
    line.set_linewidth(1.0)

fig.savefig('out.png', dpi=100)
